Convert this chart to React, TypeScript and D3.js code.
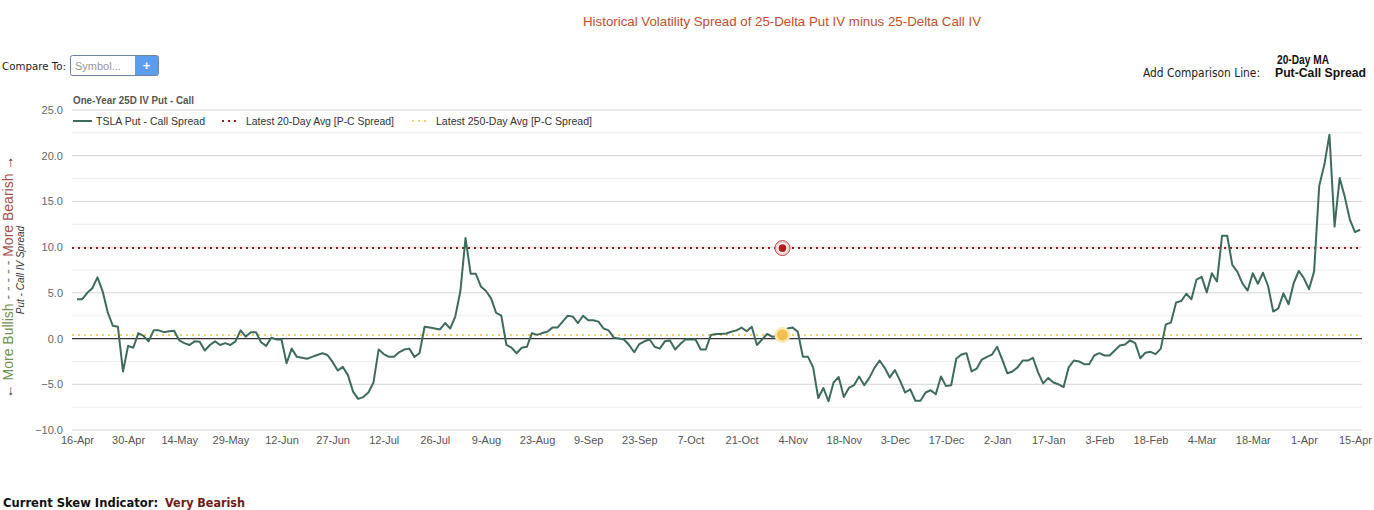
import { useRef, useEffect } from "react";
import * as d3 from "d3";

// trading-day tick labels, one every 10 sessions
const tickLabels = [
  "16-Apr", "30-Apr", "14-May", "29-May", "12-Jun", "27-Jun", "12-Jul", "26-Jul",
  "9-Aug", "23-Aug", "9-Sep", "23-Sep", "7-Oct", "21-Oct", "4-Nov", "18-Nov",
  "3-Dec", "17-Dec", "2-Jan", "17-Jan", "3-Feb", "18-Feb", "4-Mar", "18-Mar",
  "1-Apr", "15-Apr",
];

// TSLA 25D put IV minus 25D call IV, one value per session
const spread = [
  4.3, 4.3, 5.0, 5.5, 6.7, 5.2, 2.9, 1.4, 1.3, -3.6,
  -0.8, -1.0, 0.6, 0.3, -0.3, 0.9, 0.9, 0.7, 0.8, 0.85,
  -0.2, -0.5, -0.7, -0.3, -0.35, -1.3, -0.7, -0.3, -0.7, -0.5,
  -0.7, -0.3, 0.9, 0.2, 0.7, 0.7, -0.4, -0.8, 0.1, -0.1,
  -0.1, -2.7, -1.1, -2.0, -2.1, -2.2, -2.0, -1.8, -1.6, -1.8,
  -2.55, -3.5, -3.1, -4.0, -5.8, -6.6, -6.4, -5.9, -4.8, -1.2,
  -1.7, -2.0, -2.0, -1.5, -1.2, -1.1, -2.0, -1.6, 1.3, 1.2,
  1.1, 1.0, 1.7, 1.1, 2.4, 5.2, 11.0, 7.1, 7.1, 5.7,
  5.2, 4.4, 2.8, 2.5, -0.7, -1.0, -1.6, -1.0, -0.9, 0.6,
  0.4, 0.6, 0.75, 1.2, 1.2, 1.85, 2.5, 2.4, 1.7, 2.5,
  2.0, 2.0, 1.85, 1.1, 0.9, 0.1, 0.0, -0.1, -0.7, -1.5,
  -0.6, -0.3, -0.1, -0.9, -1.1, -0.3, -0.2, -1.2, -0.6, -0.1,
  -0.1, -0.1, -1.2, -1.2, 0.4, 0.5, 0.5, 0.55, 0.75, 0.9,
  1.2, 0.8, 1.3, -0.7, -0.1, 0.5, 0.2, 0.25, 0.5, 1.1,
  1.2, 0.75, -2.0, -2.0, -3.15, -6.5, -5.4, -6.85, -4.8, -4.2,
  -6.4, -5.4, -5.1, -4.15, -5.1, -4.3, -3.2, -2.4, -3.2, -4.25,
  -3.45, -4.6, -5.9, -5.55, -6.8, -6.8, -5.9, -5.65, -6.1, -4.15,
  -5.2, -5.1, -2.2, -1.75, -1.6, -3.6, -3.3, -2.3, -2.0, -1.75,
  -0.9, -2.3, -3.8, -3.6, -3.15, -2.4, -2.4, -2.1, -3.7, -4.9,
  -4.3, -4.8, -5.0, -5.3, -3.15, -2.4, -2.5, -2.8, -2.8, -1.85,
  -1.6, -1.85, -1.85, -1.3, -0.75, -0.65, -0.2, -0.5, -2.15, -1.55,
  -1.45, -1.7, -1.1, 1.55, 1.75, 3.95, 4.1, 4.9, 4.3, 6.45,
  6.75, 5.05, 7.15, 6.25, 11.25, 11.25, 8.05, 7.3, 6.0, 5.25,
  7.15, 6.0, 7.2, 5.75, 2.95, 3.3, 4.95, 3.75, 6.05, 7.4,
  6.6, 5.4, 7.35, 16.7, 19.0, 22.3, 12.25, 17.55, 15.5, 13.0,
  11.65, 11.9,
];

const avg20 = 9.9;
const avg250 = 0.4;
const markerIndex = 138;

const yMajorTicks = [-10, -5, 0, 5, 10, 15, 20, 25];
const yMinorTicks = [-7.5, -2.5, 2.5, 7.5, 12.5, 17.5, 22.5];

const WIDTH = 1374;
const HEIGHT = 510;
const GRID_L = 72;
const GRID_R = 1362;
const FONT = "'Liberation Sans', Arial, sans-serif";
const UI_FONT = "'DejaVu Sans', Verdana, sans-serif";

const TEAL = "#3f6b5f";
const RED = "#8e1f1f";
const YELLOW = "#efcf6a";

export default function App() {
  const svgRef = useRef<SVGSVGElement>(null);

  useEffect(() => {
    const svg = d3.select(svgRef.current);
    svg.selectAll("*").remove();

    const x = d3.scaleLinear().domain([0, 250]).range([77, 1355]);
    const y = d3.scaleLinear().domain([-10, 25]).range([430, 110]);

    // Title + controls
    svg.append("text")
      .attr("x", 782).attr("y", 26)
      .attr("text-anchor", "middle")
      .attr("font-family", FONT).attr("font-size", 13)
      .attr("textLength", 398).attr("lengthAdjust", "spacingAndGlyphs")
      .attr("fill", "#c0502a")
      .text("Historical Volatility Spread of 25-Delta Put IV minus 25-Delta Call IV");

    svg.append("text")
      .attr("x", 2).attr("y", 70)
      .attr("font-family", UI_FONT).attr("font-size", 11)
      .attr("textLength", 64).attr("lengthAdjust", "spacingAndGlyphs")
      .attr("fill", "#222")
      .text("Compare To:");

    svg.append("rect")
      .attr("x", 70.5).attr("y", 55.5).attr("width", 88).attr("height", 20).attr("rx", 2)
      .attr("fill", "#fff").attr("stroke", "#6d84a6");
    svg.append("rect")
      .attr("x", 135).attr("y", 56).attr("width", 23).attr("height", 19)
      .attr("fill", "#5c9ded");
    svg.append("text")
      .attr("x", 146.5).attr("y", 70)
      .attr("text-anchor", "middle")
      .attr("font-family", FONT).attr("font-size", 13).attr("font-weight", "bold")
      .attr("fill", "#fff").text("+");
    svg.append("text")
      .attr("x", 75).attr("y", 70)
      .attr("font-family", FONT).attr("font-size", 11)
      .attr("fill", "#999").text("Symbol...");

    svg.append("text")
      .attr("x", 1277).attr("y", 64)
      .attr("font-family", FONT).attr("font-size", 12).attr("font-weight", "bold")
      .attr("textLength", 52).attr("lengthAdjust", "spacingAndGlyphs")
      .attr("fill", "#111").text("20-Day MA");
    svg.append("text")
      .attr("x", 1275).attr("y", 77)
      .attr("font-family", FONT).attr("font-size", 12).attr("font-weight", "bold")
      .attr("textLength", 91).attr("lengthAdjust", "spacingAndGlyphs")
      .attr("fill", "#111").text("Put-Call Spread");
    svg.append("text")
      .attr("x", 1143).attr("y", 77)
      .attr("font-family", UI_FONT).attr("font-size", 11.5)
      .attr("textLength", 117).attr("lengthAdjust", "spacingAndGlyphs")
      .attr("fill", "#222").text("Add Comparison Line:");

    svg.append("text")
      .attr("x", 73).attr("y", 104)
      .attr("font-family", FONT).attr("font-size", 10).attr("font-weight", "bold")
      .attr("textLength", 121).attr("lengthAdjust", "spacingAndGlyphs")
      .attr("fill", "#555").text("One-Year 25D IV Put - Call");

    // Grid
    const g = svg.append("g");
    g.selectAll("line.minor")
      .data(yMinorTicks)
      .join("line")
      .attr("class", "minor")
      .attr("x1", GRID_L).attr("x2", GRID_R)
      .attr("y1", (d) => y(d)).attr("y2", (d) => y(d))
      .attr("stroke", "#eeeeee");
    g.selectAll("line.major")
      .data(yMajorTicks)
      .join("line")
      .attr("class", "major")
      .attr("x1", GRID_L).attr("x2", GRID_R)
      .attr("y1", (d) => y(d)).attr("y2", (d) => y(d))
      .attr("stroke", "#d4d4d4");

    // Y axis labels
    svg.append("g")
      .attr("transform", "translate(66,0)")
      .call(d3.axisLeft(y).tickValues(yMajorTicks).tickSize(0).tickFormat(d3.format(".1f")))
      .call((a) => a.select(".domain").remove())
      .call((a) => a.selectAll("text")
        .attr("fill", "#666").attr("font-size", "11px").attr("font-family", FONT));

    // X axis labels
    svg.append("g")
      .attr("transform", "translate(0,433)")
      .call(d3.axisBottom(x)
        .tickValues(tickLabels.map((_, i) => i * 10))
        .tickSize(0)
        .tickFormat((_, i) => tickLabels[i]))
      .call((a) => a.select(".domain").remove())
      .call((a) => a.selectAll("text")
        .attr("fill", "#555").attr("font-size", "11px").attr("font-family", FONT));

    // Zero line
    svg.append("line")
      .attr("x1", GRID_L).attr("x2", GRID_R)
      .attr("y1", y(0)).attr("y2", y(0))
      .attr("stroke", "#333").attr("stroke-width", 1.3);

    // Average lines
    svg.append("line")
      .attr("x1", GRID_L).attr("x2", GRID_R)
      .attr("y1", y(avg250)).attr("y2", y(avg250))
      .attr("stroke", YELLOW).attr("stroke-width", 2).attr("stroke-dasharray", "2,4");
    svg.append("line")
      .attr("x1", GRID_L).attr("x2", GRID_R)
      .attr("y1", y(avg20)).attr("y2", y(avg20))
      .attr("stroke", RED).attr("stroke-width", 2).attr("stroke-dasharray", "2,4");

    // Spread line
    const line = d3.line<number>()
      .x((_, i) => x(i))
      .y((d) => y(d));
    svg.append("path")
      .datum(spread)
      .attr("d", line)
      .attr("fill", "none")
      .attr("stroke", TEAL)
      .attr("stroke-width", 2)
      .attr("stroke-linejoin", "round");

    // Markers at latest averages
    const mx = x(markerIndex);
    svg.append("circle").attr("cx", mx).attr("cy", y(avg20)).attr("r", 7.5)
      .attr("fill", "#f6d0d0").attr("stroke", "#c64a4a").attr("stroke-width", 1);
    svg.append("circle").attr("cx", mx).attr("cy", y(avg20)).attr("r", 4.5)
      .attr("fill", "#b01e1e").attr("stroke", "#fff").attr("stroke-width", 1.2);
    svg.append("circle").attr("cx", mx).attr("cy", y(avg250)).attr("r", 8)
      .attr("fill", "#fbe7b0");
    svg.append("circle").attr("cx", mx).attr("cy", y(avg250)).attr("r", 5.5)
      .attr("fill", "#f0c050");

    // Legend
    const lg = svg.append("g").attr("font-family", FONT).attr("font-size", 11).attr("fill", "#333");
    lg.append("line").attr("x1", 73).attr("x2", 92).attr("y1", 121).attr("y2", 121)
      .attr("stroke", TEAL).attr("stroke-width", 2);
    lg.append("text").attr("x", 96).attr("y", 125)
      .attr("textLength", 109).attr("lengthAdjust", "spacingAndGlyphs")
      .text("TSLA Put - Call Spread");
    lg.append("line").attr("x1", 222).attr("x2", 240).attr("y1", 121).attr("y2", 121)
      .attr("stroke", RED).attr("stroke-width", 2).attr("stroke-dasharray", "2,4");
    lg.append("text").attr("x", 246).attr("y", 125)
      .attr("textLength", 148).attr("lengthAdjust", "spacingAndGlyphs")
      .text("Latest 20-Day Avg [P-C Spread]");
    lg.append("line").attr("x1", 412).attr("x2", 430).attr("y1", 121).attr("y2", 121)
      .attr("stroke", YELLOW).attr("stroke-width", 2).attr("stroke-dasharray", "2,4");
    lg.append("text").attr("x", 436).attr("y", 125)
      .attr("textLength", 156).attr("lengthAdjust", "spacingAndGlyphs")
      .text("Latest 250-Day Avg [P-C Spread]");

    // Rotated y-axis titles
    const yt = svg.append("text")
      .attr("transform", "translate(13,277) rotate(-90)")
      .attr("text-anchor", "middle")
      .attr("font-family", FONT).attr("font-size", 14);
    yt.append("tspan").attr("fill", "#444").text("\u2190 ");
    yt.append("tspan").attr("fill", "#6e9150").text("More Bullish");
    yt.append("tspan").attr("fill", "#777").text(" - - - - - ");
    yt.append("tspan").attr("fill", "#a4524c").text("More Bearish");
    yt.append("tspan").attr("fill", "#444").text(" \u2192");

    svg.append("text")
      .attr("transform", "translate(24,270) rotate(-90)")
      .attr("text-anchor", "middle")
      .attr("font-family", FONT).attr("font-size", 10).attr("font-style", "italic")
      .attr("fill", "#333").text("Put - Call IV Spread");

    // Footer
    svg.append("text")
      .attr("x", 3).attr("y", 507)
      .attr("font-family", UI_FONT).attr("font-size", 12).attr("font-weight", "bold")
      .attr("textLength", 155).attr("lengthAdjust", "spacingAndGlyphs")
      .attr("fill", "#111").text("Current Skew Indicator:");
    svg.append("text")
      .attr("x", 165).attr("y", 507)
      .attr("font-family", UI_FONT).attr("font-size", 12).attr("font-weight", "bold")
      .attr("textLength", 80).attr("lengthAdjust", "spacingAndGlyphs")
      .attr("fill", "#6e1a14").text("Very Bearish");
  }, []);

  return (
    <svg
      ref={svgRef}
      width={WIDTH}
      height={HEIGHT}
      viewBox={`0 0 ${WIDTH} ${HEIGHT}`}
      style={{ position: "absolute", left: 0, top: 0, background: "#fff" }}
    />
  );
}
